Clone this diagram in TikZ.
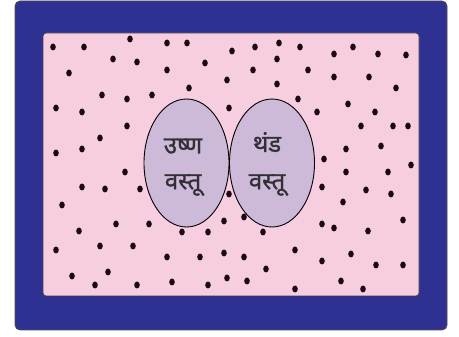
\documentclass[tikz,border=0pt]{standalone}
\usepackage{fontspec}
\newfontfamily\devfont[Script=Devanagari,FakeBold=1.2]{Noto Sans}
\usetikzlibrary{shapes.geometric}
\definecolor{frameblue}{RGB}{46,49,146}
\definecolor{bgpink}{RGB}{247,205,224}
\definecolor{blobfill}{RGB}{205,186,216}
\definecolor{dotcol}{RGB}{28,10,16}
\definecolor{txtcol}{RGB}{50,48,54}
\tikzset{
  blob/.style={ellipse, draw=black, line width=0.9pt, fill=blobfill, minimum width=85pt, minimum height=128pt, inner sep=0pt},
  word/.style={font=\devfont\fontsize{24}{28}\selectfont, text=txtcol, inner sep=0pt},
  particle/.style={fill=dotcol}
}
\begin{document}
\begin{tikzpicture}[x=1pt,y=-1pt]
\useasboundingbox (0,0) rectangle (459,337);
\filldraw[fill=frameblue, draw=black!70, line width=0.8pt, rounded corners=5pt] (15,1) rectangle (447,330);
\filldraw[fill=bgpink, draw=black!75, line width=0.8pt, rounded corners=3pt] (43,33) rectangle (419,296);
\foreach \p in {(53,47),(84,47),(130,39),(167,43),(187,43),(113,59),(137,62),(167,70),(205,63),(69,73),(227,80),(189,88),(102,95),(127,99),(152,95),(56,108),(82,112),(229,108),(127,126),(100,138),(56,153),(82,149),
(232,51),(255,47),(279,43),(300,47),(277,59),(334,54),(353,47),(378,54),(406,55),(253,70),(308,70),(334,77),(369,77),(277,84),(396,88),(298,99),(317,112),(348,104),(375,112),(361,126),(393,126),(408,126),(346,149),(381,146),(324,159),(411,165),
(125,172),(82,187),(105,189),(140,189),(62,205),(229,194),(346,172),(388,172),(322,187),(366,190),(391,194),(343,202),(403,220),(116,224),(149,224),(79,231),(182,232),(208,232),(224,221),(244,217),(263,232),(56,250),(100,246),(133,246),(167,257),(200,257),(224,253),(244,257),(295,250),(266,269),(72,276),(108,272),(95,285),(137,285),(172,282),(208,285),(227,278),(247,281),(295,289),(322,224),(334,228),(368,231),(322,261),(351,254),(376,265),(403,265),(341,281),(363,289)}
  \fill[particle] \p ellipse [x radius=2.8, y radius=3.5];
\node[blob] (hot) at (186.5,163) {};
\node[blob] (cold) at (272,163) {};
\node[word] (hot1) at (183,146) {उष्ण};
\node[word] (hot2) at (183,185) {वस्तू};
\node[word] (cold1) at (267,142) {थंड};
\node[word] (cold2) at (267,185) {वस्तू};
\end{tikzpicture}
\end{document}
